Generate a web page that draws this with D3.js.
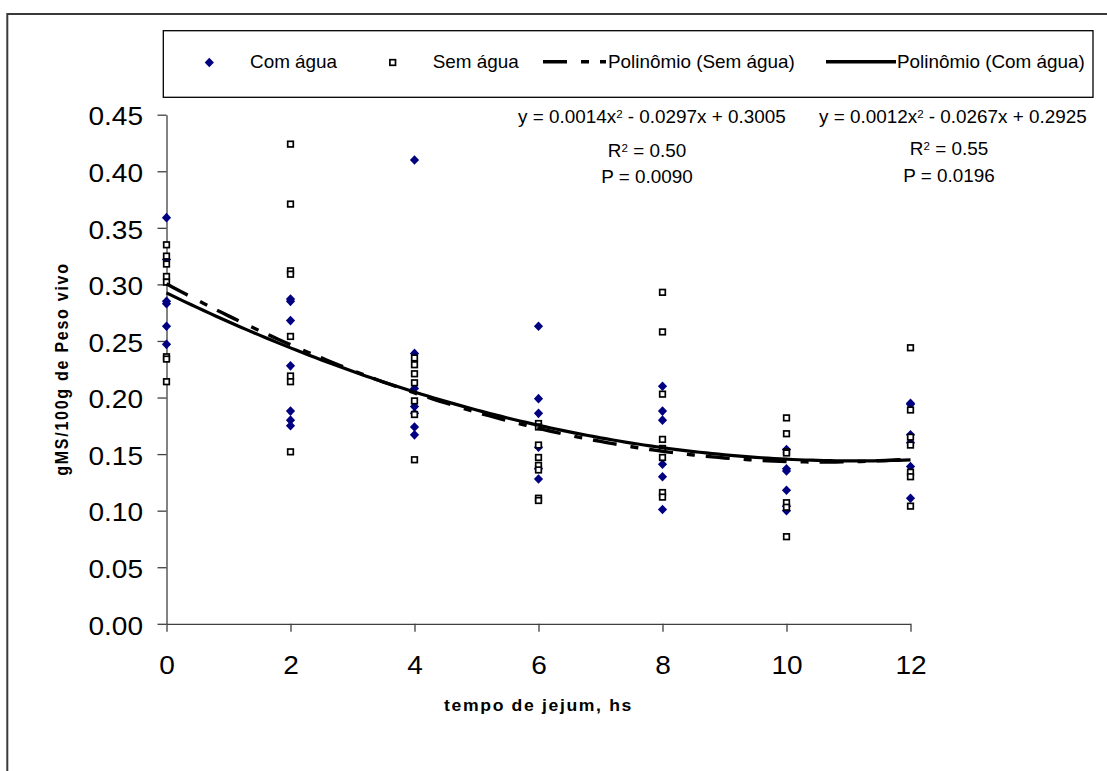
<!DOCTYPE html>
<html>
<head>
<meta charset="utf-8">
<script src="https://cdn.jsdelivr.net/npm/d3@7"></script>
<style>
  html, body { margin: 0; padding: 0; background: #fff; }
  svg { display: block; }
  text { font-family: "Liberation Sans", Arial, Helvetica, sans-serif; fill: #000; }
</style>
</head>
<body>
<svg id="chart" width="1107" height="771"></svg>
<script>
// Fasting time (h) at which each group was sampled
const hours = [0, 2, 4, 6, 8, 10, 12];

// gMS/100g de peso vivo, one inner array per fasting time
const comAgua = [
  [0.359, 0.322, 0.285, 0.283, 0.263, 0.247],
  [0.287, 0.285, 0.268, 0.228, 0.188, 0.180, 0.175],
  [0.410, 0.239, 0.208, 0.192, 0.186, 0.174, 0.167],
  [0.263, 0.199, 0.186, 0.156, 0.137, 0.128],
  [0.210, 0.188, 0.180, 0.141, 0.130, 0.101],
  [0.154, 0.137, 0.135, 0.118, 0.104, 0.100],
  [0.195, 0.194, 0.167, 0.160, 0.139, 0.111]
];
const semAgua = [
  [0.335, 0.325, 0.318, 0.307, 0.302, 0.236, 0.234, 0.214],
  [0.424, 0.371, 0.312, 0.309, 0.254, 0.219, 0.214, 0.152],
  [0.235, 0.229, 0.221, 0.213, 0.197, 0.185, 0.145],
  [0.177, 0.174, 0.158, 0.147, 0.140, 0.136, 0.111, 0.109],
  [0.293, 0.258, 0.203, 0.163, 0.155, 0.147, 0.116, 0.112],
  [0.182, 0.168, 0.152, 0.151, 0.107, 0.103, 0.077],
  [0.244, 0.189, 0.165, 0.158, 0.134, 0.130, 0.104]
];

// Quadratic trendlines: a*x^2 + b*x + c
const fitSem = [0.0014, -0.0297, 0.3005];
const fitCom = [0.0012, -0.0267, 0.2925];
const statsSem = ["0.50", "0.0090"];   // R², P
const statsCom = ["0.55", "0.0196"];

const xTicks = [0, 2, 4, 6, 8, 10, 12];
const yTicks = [0, 0.05, 0.10, 0.15, 0.20, 0.25, 0.30, 0.35, 0.40, 0.45];
const legendLabels = ["Com água", "Sem água", "Polinômio (Sem água)", "Polinômio (Com água)"];
const xTitle = "tempo de jejum, hs";
const yTitle = "gMS/100g de Peso vivo";

// ---------------------------------------------------------------
const svg = d3.select("#chart");
const NAVY = "#000080";
const AXIS = "#404040";
const SX_TICK = 1.1;   // tick labels are drawn slightly wide
const SX = 1.05;       // legend and annotation text

const x = d3.scaleLinear().domain([0, 12]).range([166.5, 910.5]);
const y = d3.scaleLinear().domain([0, 0.45]).range([623.8, 114.7]);

// widen a text element horizontally around its anchor point
function widen(sel, sx) {
  sel.each(function () {
    const t = d3.select(this);
    const tx = +t.attr("x") || 0, ty = +t.attr("y") || 0;
    const prev = t.attr("transform") || "";
    t.attr("x", 0).attr("y", 0)
     .attr("transform", `translate(${tx},${ty}) scale(${sx},1) ${prev}`);
  });
}

// outer chart frame (right and bottom edges lie off the page)
svg.append("rect")
  .attr("x", 7.3).attr("y", 14).attr("width", 1300).attr("height", 1000)
  .attr("fill", "none").attr("stroke", "#3a3a3a").attr("stroke-width", 2);

// axes
const yAxis = d3.axisLeft(y).tickValues(yTicks).tickFormat(d3.format(".2f"))
  .tickSize(9).tickSizeOuter(0).tickPadding(14.5);
const gy = svg.append("g").attr("transform", `translate(${x(0)},0)`).call(yAxis);
const xAxis = d3.axisBottom(x).tickValues(xTicks).tickFormat(d3.format("d"))
  .tickSize(8).tickSizeOuter(0).tickPadding(24);
const gx = svg.append("g").attr("transform", `translate(0,${y(0)})`).call(xAxis);

[gx, gy].forEach(g => {
  g.attr("font-family", null).attr("font-size", null);
  g.selectAll("path, line").attr("stroke", AXIS).attr("stroke-width", 1.3);
  g.selectAll("text").attr("font-size", 25.5).attr("fill", "#000");
});
gy.selectAll("text").attr("dy", "0.4em");
widen(gy.selectAll("text"), SX_TICK);
widen(gx.selectAll("text"), SX_TICK);

// axis titles
const xt = svg.append("text")
  .attr("x", 538.5).attr("y", 711)
  .attr("text-anchor", "middle").attr("font-weight", "bold")
  .attr("font-size", 16).attr("letter-spacing", 1.5)
  .text(xTitle);
widen(xt, SX_TICK);

svg.append("text")
  .attr("transform", `translate(68,369) scale(${SX_TICK},1) rotate(-90)`)
  .attr("text-anchor", "middle").attr("font-weight", "bold")
  .attr("font-size", 16).attr("letter-spacing", 1.75)
  .text(yTitle);

// marker shapes
const diamondPath = "M0,-4.8L4.6,0L0,4.8L-4.6,0Z";
function drawDiamond(g) {
  g.append("path").attr("d", diamondPath).attr("fill", NAVY);
}
function drawSquare(g) {
  g.append("rect").attr("x", -2.8).attr("y", -2.8).attr("width", 5.6).attr("height", 5.6)
    .attr("fill", "#fff").attr("stroke", "#000").attr("stroke-width", 1.7);
}

function flatten(groups) {
  const out = [];
  groups.forEach((vals, i) => vals.forEach(v => out.push({ h: hours[i], v })));
  return out;
}

// Com água points
svg.append("g").selectAll("g").data(flatten(comAgua)).join("g")
  .attr("transform", d => `translate(${x(d.h)},${y(d.v)})`)
  .each(function () { drawDiamond(d3.select(this)); });

// Sem água points
svg.append("g").selectAll("g").data(flatten(semAgua)).join("g")
  .attr("transform", d => `translate(${x(d.h)},${y(d.v)})`)
  .each(function () { drawSquare(d3.select(this)); });

// trendlines
const quad = f => h => f[0] * h * h + f[1] * h + f[2];
const samples = d3.range(0, 12.0001, 0.1);
const line = f => d3.line().x(h => x(h)).y(h => y(quad(f)(h)))(samples);
const DASH = "24,14,8,11";

svg.append("path").attr("d", line(fitSem))
  .attr("fill", "none").attr("stroke", "#000").attr("stroke-width", 3.4)
  .attr("stroke-dasharray", DASH);
svg.append("path").attr("d", line(fitCom))
  .attr("fill", "none").attr("stroke", "#000").attr("stroke-width", 3.2);

// legend
const legend = svg.append("g");
legend.append("rect")
  .attr("x", 163.3).attr("y", 30.7).attr("width", 929.7).attr("height", 66.6)
  .attr("fill", "#fff").attr("stroke", "#000").attr("stroke-width", 1.3);
const ly = 62.5;
drawDiamond(legend.append("g").attr("transform", `translate(209.3,${ly})`));
drawSquare(legend.append("g").attr("transform", `translate(392.7,${ly})`));
legend.append("line").attr("x1", 543).attr("x2", 606).attr("y1", ly - 0.8).attr("y2", ly - 0.8)
  .attr("stroke", "#000").attr("stroke-width", 3.6).attr("stroke-dasharray", DASH);
legend.append("line").attr("x1", 826).attr("x2", 896).attr("y1", ly - 0.8).attr("y2", ly - 0.8)
  .attr("stroke", "#000").attr("stroke-width", 3.4);
const legendX = [250, 432.7, 608, 897];
legendLabels.forEach((lab, i) => {
  const t = legend.append("text").attr("x", legendX[i]).attr("y", 67.8)
    .attr("font-size", 18).text(lab);
  widen(t, SX);
});

// equation annotations
function fmt(v) { return Math.abs(v).toFixed(4); }
function equation(xp, yp, f) {
  const t = svg.append("text").attr("x", xp).attr("y", yp).attr("font-size", 18);
  t.append("tspan").text(`y = ${fmt(f[0])}x`);
  t.append("tspan").attr("dy", -5.6).attr("font-size", 11).text("2");
  t.append("tspan").attr("dy", 5.6)
    .text(` ${f[1] < 0 ? "-" : "+"} ${fmt(f[1])}x ${f[2] < 0 ? "-" : "+"} ${fmt(f[2])}`);
  widen(t, SX);
}
function stats(xc, y1, y2, s) {
  const r = svg.append("text").attr("x", xc).attr("y", y1)
    .attr("font-size", 18).attr("text-anchor", "middle");
  r.append("tspan").text("R");
  r.append("tspan").attr("dy", -5.6).attr("font-size", 11).text("2");
  r.append("tspan").attr("dy", 5.6).text(` = ${s[0]}`);
  widen(r, SX);
  const p = svg.append("text").attr("x", xc).attr("y", y2)
    .attr("font-size", 18).attr("text-anchor", "middle").text(`P = ${s[1]}`);
  widen(p, SX);
}
equation(518, 123.3, fitSem);
equation(819, 123.3, fitCom);
stats(647, 157.3, 183.3, statsSem);
stats(949, 155.3, 181.7, statsCom);
</script>
</body>
</html>
